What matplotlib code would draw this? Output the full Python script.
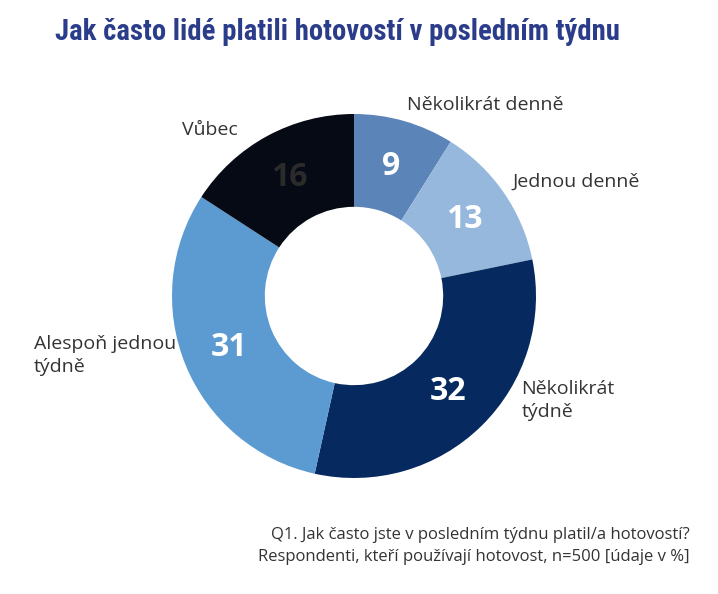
import numpy as np
import matplotlib
matplotlib.use("Agg")
import matplotlib.pyplot as plt
from matplotlib import font_manager

categories = ["Několikrát denně", "Jednou denně", "Několikrát\ntýdně", "Alespoň jednou\ntýdně", "Vůbec"]
values = [9, 13, 32, 31, 16]
colors = ["#5b84b9", "#95b8dc", "#062a60", "#5b9bd1", "#050a14"]
value_colors = ["white", "white", "white", "white", "#2b2b2b"]
label_pos = [(0.29, 1.05), (0.87, 0.63), (0.92, -0.575), (-1.76, -0.325), (-0.945, 0.91)]

names = sorted({f.name for f in font_manager.fontManager.ttflist})
cands = ["Liberation Sans Narrow", "DejaVu Sans Condensed", "Roboto Condensed", "Open Sans Condensed"]
title_font = next((c for c in cands if c in names), None)
text_font = "Open Sans" if "Open Sans" in names else "DejaVu Sans"

fig = plt.figure(figsize=(7.18, 5.94), dpi=100)
R = 182
cx, cy = 354, 296
W, H = 718, 594
ax = fig.add_axes([(cx - R) / W, 1 - (cy + R) / H, 2 * R / W, 2 * R / H])
wedges, _ = ax.pie(values, colors=colors, startangle=90, counterclock=False,
                   radius=1.0, wedgeprops=dict(width=0.51, linewidth=0))
ax.set_xlim(-1, 1)
ax.set_ylim(-1, 1)
ax.set_aspect("equal")
ax.axis("off")

for w, v, tc in zip(wedges, values, value_colors):
    ang = np.deg2rad((w.theta1 + w.theta2) / 2)
    r = 0.74
    ax.text(r * np.cos(ang), r * np.sin(ang), str(v), ha="center", va="center",
            fontsize=23, fontweight="bold", color=tc, family=text_font)

for lab, (x, y) in zip(categories, label_pos):
    ax.text(x, y, lab, ha="left", va="center", fontsize=14, color="#333333",
            family=text_font, linespacing=1.35, clip_on=False)

title = "Jak často lidé platili hotovostí v posledním týdnu"
if title_font:
    fig.text(55 / W, 1 - 32 / H, title, ha="left", va="center", fontsize=20.7,
             fontweight="bold", color="#2b3d8a", family=title_font)
else:
    fig.text(55 / W, 1 - 32 / H, title, ha="left", va="center", fontsize=17,
             fontweight="bold", color="#2b3d8a", family=text_font)

fig.text(690 / W, 1 - 535 / H, "Q1. Jak často jste v posledním týdnu platil/a hotovostí?",
         ha="right", va="center", fontsize=12, color="#333333", family=text_font)
fig.text(690 / W, 1 - 557 / H, "Respondenti, kteří používají hotovost, n=500 [údaje v %]",
         ha="right", va="center", fontsize=12, color="#333333", family=text_font)

fig.savefig("out.png", dpi=100)
